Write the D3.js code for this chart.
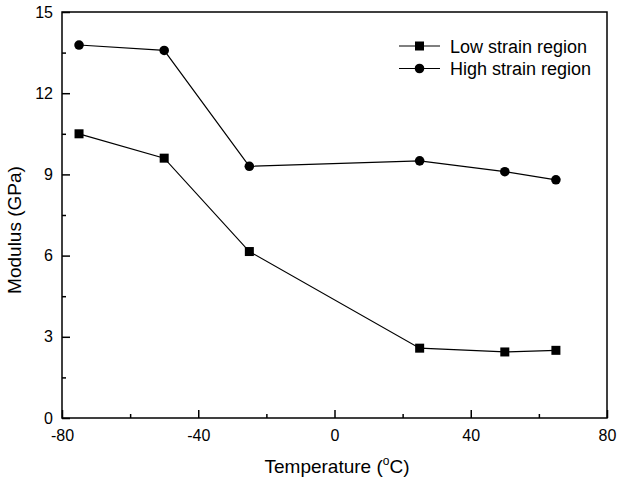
<!DOCTYPE html>
<html>
<head>
<meta charset="utf-8">
<script src="https://cdn.jsdelivr.net/npm/d3@7"></script>
<style>
  body { margin: 0; background: #fff; }
  text { font-family: "Liberation Sans", Arial, sans-serif; fill: #000; }
</style>
</head>
<body>
<div id="chart"></div>
<script>
// temperatures (°C) and modulus (GPa)
const temps = [-75, -50, -25, 25, 50, 65];
const lowStrain = [10.5, 9.6, 6.15, 2.58, 2.44, 2.5];
const highStrain = [13.78, 13.58, 9.3, 9.5, 9.1, 8.8];
const seriesNames = ["Low strain region", "High strain region"];
const xTicks = [-80, -40, 0, 40, 80];
const yTicks = [0, 3, 6, 9, 12, 15];

const width = 619, height = 483;
const margin = { top: 12, right: 12, bottom: 65, left: 62 };
const fontFam = "Liberation Sans, Arial, sans-serif";

const svg = d3.select("#chart").append("svg")
  .attr("width", width)
  .attr("height", height);

const x = d3.scaleLinear().domain([-80, 80]).range([margin.left, width - margin.right]);
const y = d3.scaleLinear().domain([0, 15]).range([height - margin.bottom, margin.top]);

// frame
svg.append("rect")
  .attr("x", x(-80)).attr("y", y(15))
  .attr("width", x(80) - x(-80)).attr("height", y(0) - y(15))
  .attr("fill", "none").attr("stroke", "#000").attr("stroke-width", 1.5);

// x axis, ticks pointing in, hyphen minus like the original
const xAxis = svg.append("g")
  .attr("transform", `translate(0,${y(0)})`)
  .call(d3.axisBottom(x).tickValues(xTicks).tickSize(-8).tickPadding(12).tickFormat(d => String(d)));
xAxis.select(".domain").remove();
xAxis.selectAll("line").attr("stroke-width", 1.5);
xAxis.selectAll("text").attr("font-size", 16).attr("font-family", fontFam);
svg.append("g")
  .attr("transform", `translate(0,${y(0)})`)
  .call(d3.axisBottom(x).tickValues([-60, -20, 20, 60]).tickSize(-4).tickFormat(""))
  .call(g => g.select(".domain").remove())
  .selectAll("line").attr("stroke-width", 1.5);

// y axis
const yAxis = svg.append("g")
  .attr("transform", `translate(${x(-80)},0)`)
  .call(d3.axisLeft(y).tickValues(yTicks).tickSize(-8).tickPadding(9));
yAxis.select(".domain").remove();
yAxis.selectAll("line").attr("stroke-width", 1.5);
yAxis.selectAll("text").attr("font-size", 16).attr("font-family", fontFam);
svg.append("g")
  .attr("transform", `translate(${x(-80)},0)`)
  .call(d3.axisLeft(y).tickValues([1.5, 4.5, 7.5, 10.5, 13.5]).tickSize(-4).tickFormat(""))
  .call(g => g.select(".domain").remove())
  .selectAll("line").attr("stroke-width", 1.5);

// axis titles
const xt = svg.append("text")
  .attr("x", 337).attr("y", 473)
  .attr("text-anchor", "middle").attr("font-size", 19);
xt.append("tspan").text("Temperature (");
xt.append("tspan").attr("font-size", 12).attr("dy", -8).text("o");
xt.append("tspan").attr("dy", 8).text("C)");

svg.append("text")
  .attr("transform", `translate(21,230) rotate(-90)`)
  .attr("text-anchor", "middle").attr("font-size", 19)
  .text("Modulus (GPa)");

const line = d3.line().x((d, i) => x(temps[i])).y(d => y(d));

function drawSeries(vals, shape) {
  svg.append("path").datum(vals)
    .attr("d", line).attr("fill", "none").attr("stroke", "#000").attr("stroke-width", 1.2);
  if (shape === "square") {
    svg.selectAll(null).data(vals).join("rect")
      .attr("x", (d, i) => x(temps[i]) - 4.5).attr("y", d => y(d) - 4.5)
      .attr("width", 9).attr("height", 9).attr("fill", "#000");
  } else {
    svg.selectAll(null).data(vals).join("circle")
      .attr("cx", (d, i) => x(temps[i])).attr("cy", d => y(d))
      .attr("r", 4.8).attr("fill", "#000");
  }
}
drawSeries(lowStrain, "square");
drawSeries(highStrain, "circle");

// legend
const legend = svg.append("g").attr("transform", "translate(399,46)");
seriesNames.forEach((name, i) => {
  const g = legend.append("g").attr("transform", `translate(0,${i * 22.5})`);
  g.append("line").attr("x1", 0).attr("x2", 41).attr("stroke", "#000").attr("stroke-width", 1.2);
  if (i === 0) g.append("rect").attr("x", 16).attr("y", -4.5).attr("width", 9).attr("height", 9);
  else g.append("circle").attr("cx", 20.5).attr("r", 4.8);
  g.append("text").attr("x", 51).attr("y", 6.5).attr("font-size", 18).text(name);
});
</script>
</body>
</html>
